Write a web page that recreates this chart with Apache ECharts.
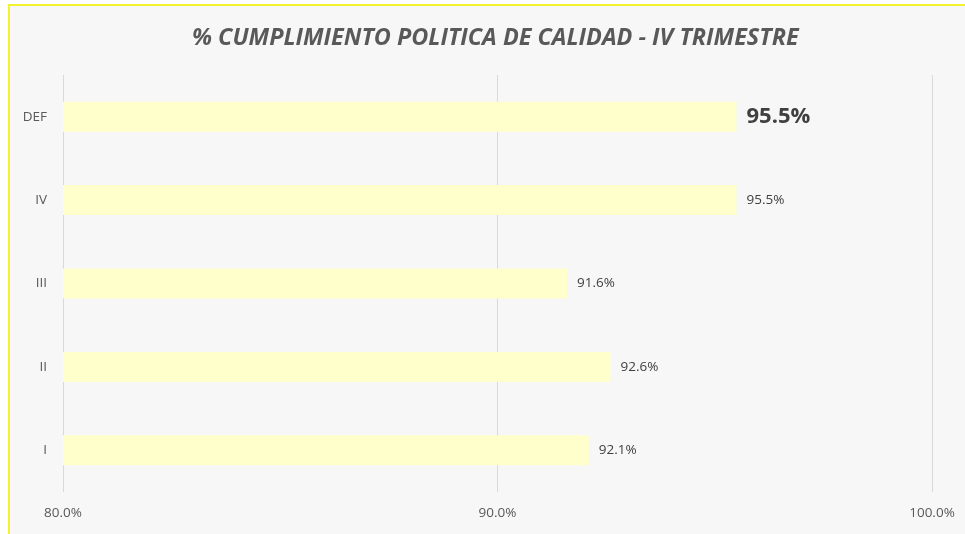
<!DOCTYPE html>
<html><head><meta charset="utf-8">
<script src="https://cdn.jsdelivr.net/npm/echarts@6/dist/echarts.min.js"></script>
<style>html,body{margin:0;padding:0;background:#fff;}#c{width:965px;height:534px;}</style>
</head><body><div id="c"></div>
<script>
const titleText = '% CUMPLIMIENTO POLITICA DE CALIDAD - IV TRIMESTRE';
const categories = ['I', 'II', 'III', 'IV', 'DEF'];
const values = [92.1, 92.6, 91.6, 95.5, 95.5];
const axisMin = 80, axisMax = 100, axisStep = 10;

const chart = echarts.init(document.getElementById('c'), null, {renderer: 'canvas'});
chart.setOption({
  animation: false,
  backgroundColor: '#ffffff',
  graphic: [{
    type: 'rect', z: -10, silent: true,
    shape: {x: 9, y: 5, width: 1000, height: 600},
    style: {fill: '#f7f7f7', stroke: '#f2f230', lineWidth: 2}
  }],
  title: {
    text: titleText, left: 187, top: 22,
    textStyle: {fontFamily: 'Open Sans', fontStyle: 'italic', fontWeight: 'bold', fontSize: 23.4, color: '#595959'}
  },
  grid: {left: 63, right: 33, top: 75, bottom: 42, containLabel: false},
  xAxis: {
    type: 'value', min: axisMin, max: axisMax, interval: axisStep,
    axisLine: {show: false}, axisTick: {show: false},
    splitLine: {lineStyle: {color: '#d9d9d9', width: 1}},
    axisLabel: {formatter: v => v.toFixed(1) + '%', margin: 14, fontFamily: 'Open Sans', fontSize: 13.5, color: '#595959'}
  },
  yAxis: {
    type: 'category', data: categories,
    axisLine: {show: false}, axisTick: {show: false},
    axisLabel: {margin: 16, fontFamily: 'Open Sans', fontSize: 13.5, color: '#595959'}
  },
  series: [{
    type: 'bar', barWidth: 30,
    data: values.map((v, i) => ({
      value: v,
      label: i === values.length - 1 ? {fontSize: 22, fontWeight: 'bold', color: '#404040'} : undefined
    })),
    itemStyle: {color: '#ffffcc'},
    label: {show: true, position: 'right', distance: 10, formatter: p => p.value.toFixed(1) + '%',
      fontFamily: 'Open Sans', fontSize: 13.5, color: '#404040'}
  }]
});
</script></body></html>
